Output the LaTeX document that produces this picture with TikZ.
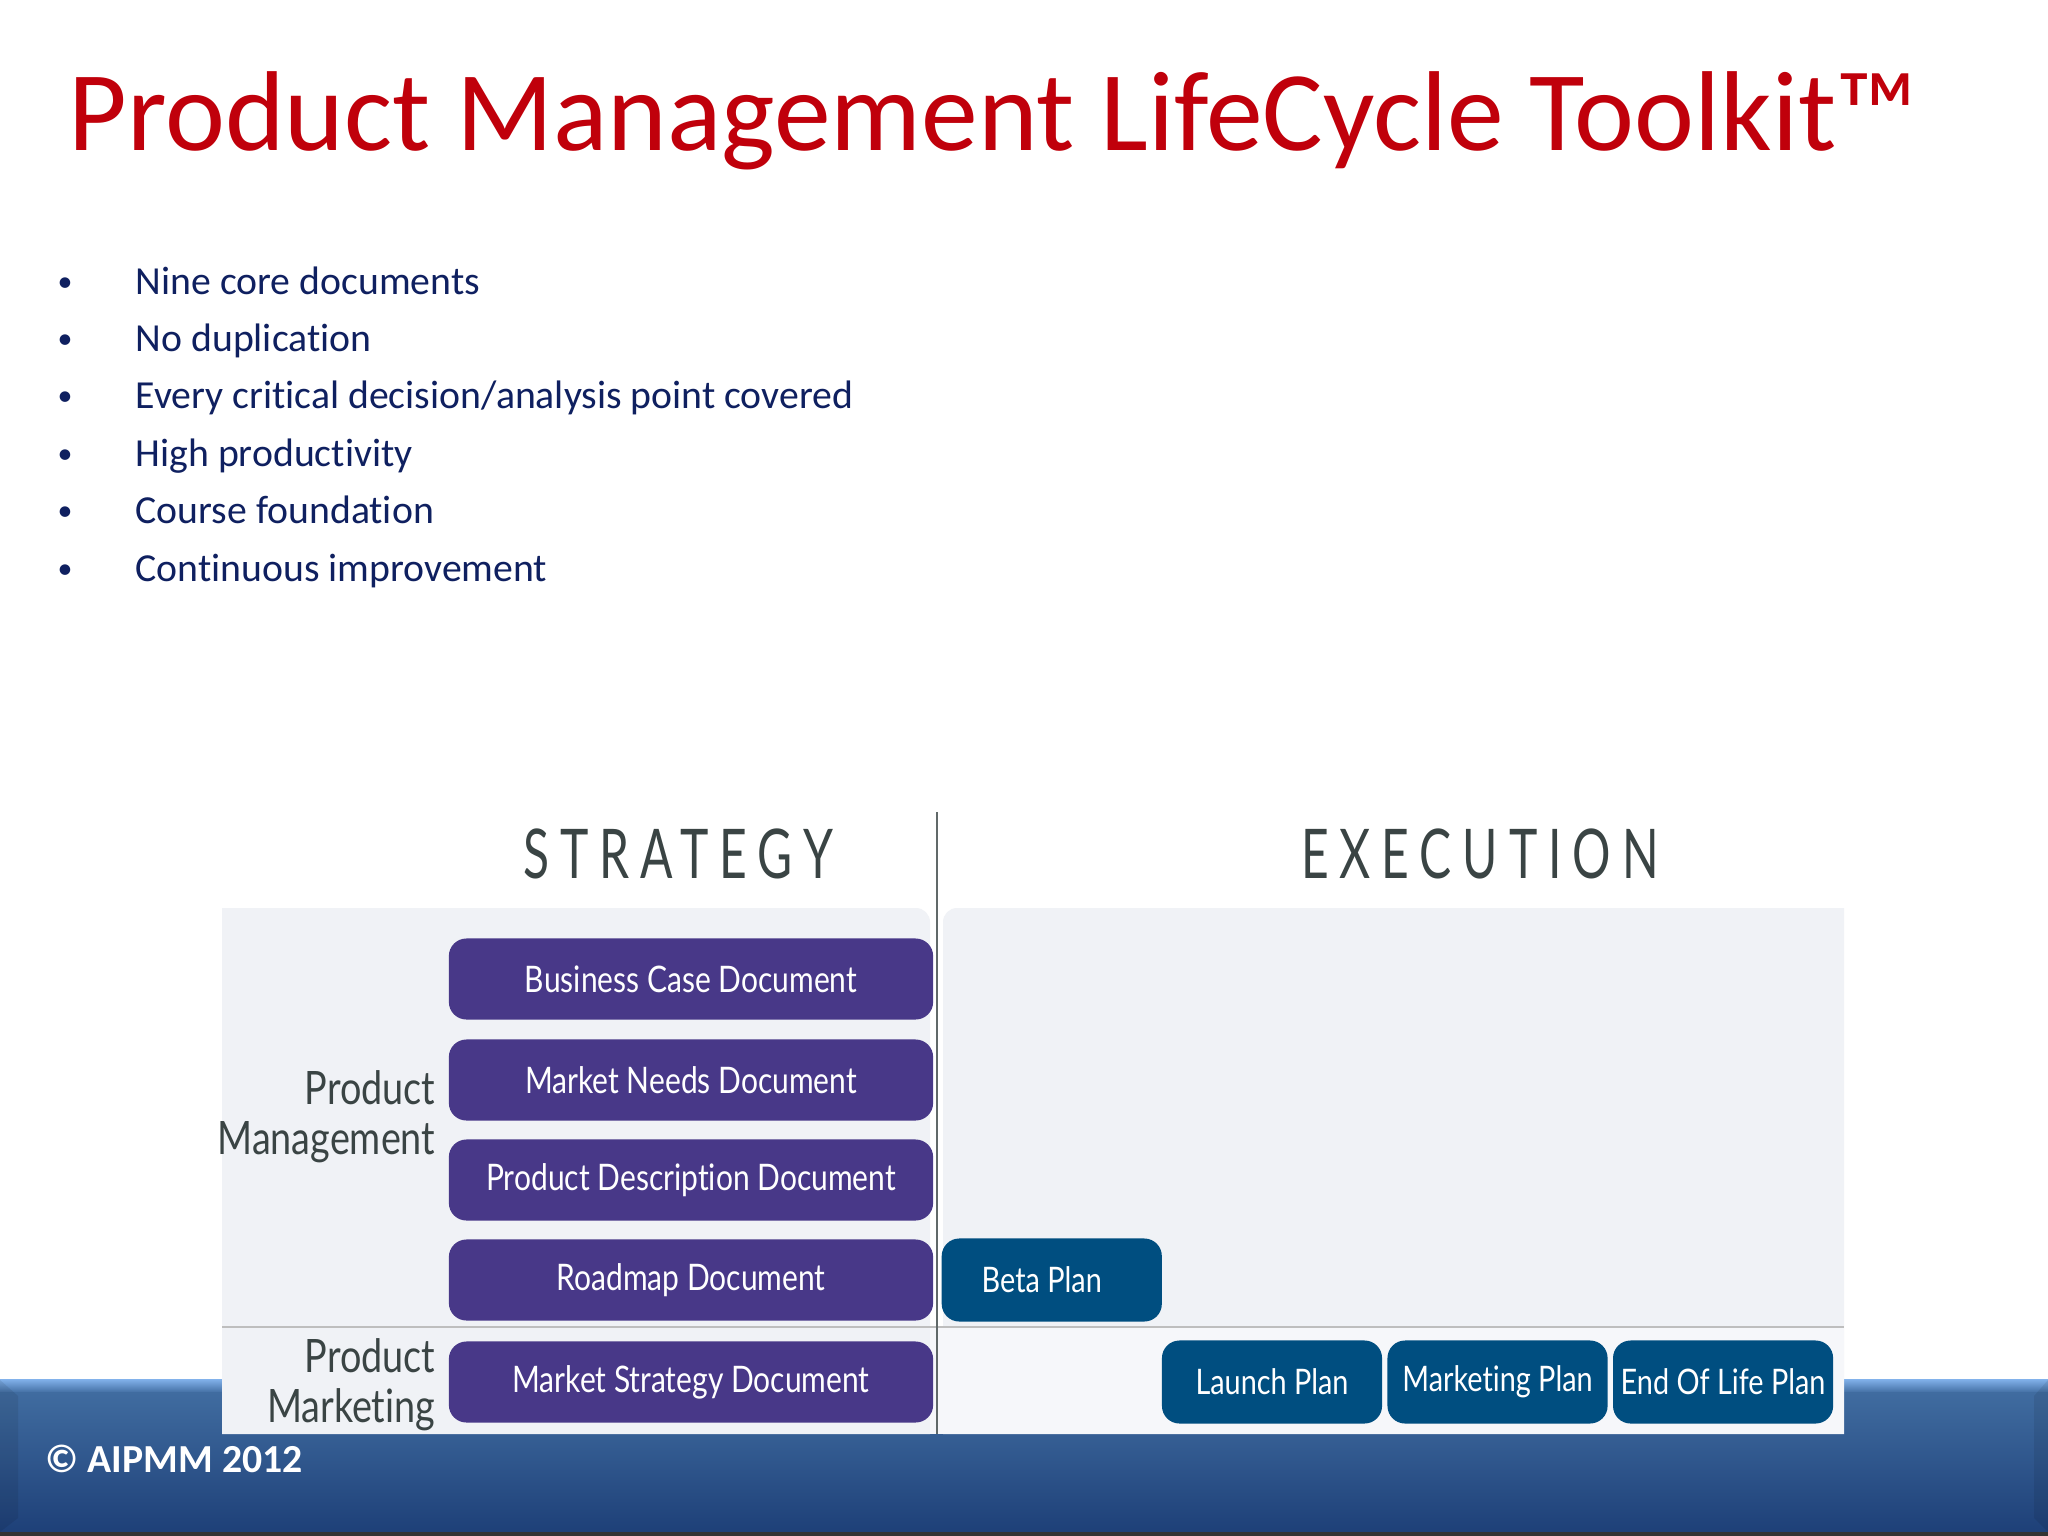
\documentclass[tikz,border=0pt]{standalone}
\usepackage{fontspec}
\setmainfont[RawFeature={-liga}]{Carlito}
\newfontfamily\gillfont[FakeStretch=0.82,RawFeature={-liga}]{Lato}
\newfontfamily\headfont[FakeStretch=0.7,LetterSpace=16]{Lato}
\usepackage{tikz}
\usetikzlibrary{positioning}
\definecolor{titlered}{RGB}{192,0,11}
\definecolor{bulletblue}{RGB}{15,32,96}
\definecolor{panelgray}{RGB}{240,242,246}
\definecolor{rowgray}{RGB}{246,247,250}
\definecolor{rulegray}{RGB}{190,190,190}
\definecolor{docpurple}{RGB}{72,56,136}
\definecolor{planblue}{RGB}{0,78,128}
\definecolor{labelgray}{RGB}{58,68,68}
\definecolor{bandtop}{RGB}{130,178,235}
\definecolor{bandmid}{RGB}{64,108,160}
\definecolor{bandlow}{RGB}{30,64,120}
\begin{document}
\begin{tikzpicture}[x=0.01cm,y=-0.01cm,
    titlestyle/.style={text=titlered,font=\fontsize{32.3}{38}\selectfont,inner sep=0pt,anchor=base west},
    bulletstyle/.style={text=bulletblue,font=\fontsize{11.3}{13}\selectfont,inner sep=0pt,anchor=base west},
    dotstyle/.style={text=bulletblue,font=\fontsize{8.5}{10}\selectfont,inner sep=0pt,anchor=base west},
    headstyle/.style={text=labelgray,font=\headfont\fontsize{19.5}{22}\selectfont,inner sep=0pt,anchor=base},
    rolestyle/.style={text=labelgray,font=\gillfont\fontsize{13.1}{14.2}\selectfont,inner sep=0pt,anchor=east,align=right},
    docstyle/.style={fill=docpurple,text=white,rounded corners=5pt,font=\gillfont\fontsize{10.4}{12}\selectfont,
      minimum width=4.84cm,minimum height=0.81cm,inner sep=0pt},
    planstyle/.style={fill=planblue,text=white,rounded corners=5pt,font=\gillfont\fontsize{10}{12}\selectfont,
      minimum width=2.2cm,minimum height=0.83cm,inner sep=0pt}]
    \useasboundingbox (0,0) rectangle (2048,1536);
    \fill[white] (0,0) rectangle (2048,1536);
    % footer band
    \fill[top color=bandtop,bottom color=bandmid] (0,1379) rectangle (2048,1393);
    \fill[top color=bandmid,bottom color=bandlow] (0,1392) rectangle (2048,1532);
    \fill[black,opacity=0.08] (0,1380) -- (18,1396) -- (18,1518) -- (0,1532) -- cycle;
    \fill[black,opacity=0.08] (2048,1380) -- (2034,1396) -- (2034,1518) -- (2048,1532) -- cycle;
    \fill[black!80] (0,1532) rectangle (2048,1536);
    \node[inner sep=0pt,anchor=base west,text=white,font=\bfseries\fontsize{11.3}{13}\selectfont] (copyright) at (45,1472) {© AIPMM 2012};
    % title and bullets
    \node[titlestyle] (title) at (68,150) {Product Management LifeCycle Toolkit™};
    \foreach \label [count=\xi from 0] in {Nine core documents,No duplication,Every critical decision/analysis point covered,High productivity,Course foundation,Continuous improvement}
        \pgfmathsetmacro\result{294 + 57.4*\xi}
        \node[bulletstyle] (bullet\xi) at (135,\result) {\label};
    \foreach \xi in {0,...,5}
        \pgfmathsetmacro\result{291 + 57.4*\xi}
        \node[dotstyle] (dot\xi) at (57,\result) {•};
    % panels
    \fill[panelgray] (222,908) [rounded corners=4pt] -- (930,908) [sharp corners] -- (930,1434) -- (222,1434) -- cycle;
    \fill[panelgray] (943,1434) [rounded corners=4pt] -- (943,908) [sharp corners] -- (1844,908) -- (1844,1434) -- cycle;
    \fill[rowgray] (930,1327) rectangle (1844,1434);
    \coordinate (ruletop) at (937,812);
    \coordinate (rulebot) at (937,1434);
    \coordinate (hleft) at (222,1327);
    \coordinate (hright) at (1844,1327);
    \draw[rulegray,line width=0.8pt] (hleft) -- (hright);
    \draw[labelgray!80,line width=0.8pt] (ruletop) -- (rulebot);
    \node[headstyle] (strategy) at (678,878) {STRATEGY};
    \node[headstyle] (execution) at (1480,878) {EXECUTION};
    \node[rolestyle] (pm) at (436,1117) {Product\\Management};
    \node[rolestyle] (pk) at (436,1385) {Product\\Marketing};
    % documents
    \foreach \y/\label [count=\xi] in {979/Business Case Document,1080/Market Needs Document,1180/Product Description Document,1280/Roadmap Document,1382/Market Strategy Document}
        \node[docstyle] (doc\xi) at (691,\y) {\label};
    % plans
    \node[planstyle,anchor=west] (beta) at (941,1280) {\hspace*{-0.2cm}Beta Plan};
    \node[planstyle] (launch) at (1272,1382) {Launch Plan};
    \node[planstyle,right=0.04cm of launch] (marketing) {Marketing Plan};
    \node[planstyle,right=0.04cm of marketing] (endlife) {End Of Life Plan};
\end{tikzpicture}
\end{document}
